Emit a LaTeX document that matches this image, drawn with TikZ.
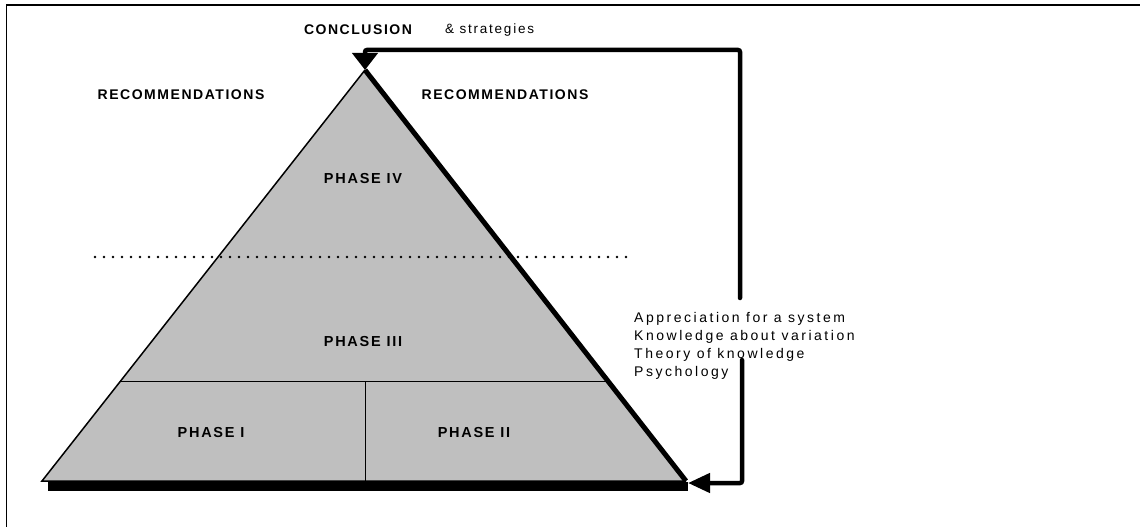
\documentclass[tikz,border=0pt]{standalone}
\usepackage{fontspec}
\setmainfont{Liberation Sans}
\usetikzlibrary{arrows.meta,calc}

\tikzset{
  caps/.style={font=\fontsize{14}{16}\selectfont\bfseries\addfontfeature{LetterSpace=11}},
  phase/.style={font=\fontsize{14.5}{16}\selectfont\bfseries\addfontfeature{LetterSpace=12}},
  plain/.style={font=\fontsize{14}{18}\selectfont\addfontfeature{LetterSpace=18}},
  feedback/.style={line width=4.5pt,rounded corners=2pt,line cap=round}
}

\begin{document}
\begin{tikzpicture}[x=1pt,y=-1pt]
    \useasboundingbox (0,0) rectangle (1140,527);
    % frame
    \draw[line width=2.5pt] (6,5) -- (1140,5);
    \draw[line width=1.5pt] (6.5,5) -- (6.5,527);

    \coordinate (apex) at (365,70);
    \coordinate (baseL) at (42,481);
    \coordinate (baseR) at (686,481);

    % pyramid
    \fill[lightgray] (apex) -- (baseL) -- (baseR) -- cycle;
    \draw[line width=0.8pt] ($(apex)!0.757!(baseL)$) -- ($(apex)!0.757!(baseR)$);
    \draw[line width=0.8pt] (365,381) -- (365,481);
    \draw[line width=2.6pt,line cap=round,dash pattern=on 0pt off 9pt] (95,257) -- (632,257);
    \draw[line width=1.5pt] (baseR) -- (baseL) -- (apex);
    \draw[line width=5pt] (apex) -- (baseR);
    \draw[line width=9pt] (48,486.5) -- (688,486.5);

	\node[caps] (conclusion) at (358,30) {CONCLUSION};
	\node[plain,font=\fontsize{13.5}{16}\selectfont\addfontfeature{LetterSpace=13},anchor=west,inner sep=0pt] (strategies) at (445,30) {\& strategies};
	\node[caps] (recleft) at (181,95) {RECOMMENDATIONS};
	\node[caps] (recright) at (505,95) {RECOMMENDATIONS};
	\node[phase] (phaseIV) at (363,179) {PHASE IV};
	\node[phase] (phaseIII) at (363,342) {PHASE III};
	\node[phase] (phaseI) at (211,433) {PHASE I};
	\node[phase] (phaseII) at (474,433) {PHASE II};
	\node[plain,align=left,anchor=north west,inner sep=0pt] (factors) at (634,312)
	  {Appreciation for a system\\Knowledge about variation\\Theory of knowledge\\Psychology};

    % feedback loops
    \coordinate (topfree) at (740,298);
    \coordinate (lowfree) at (742,360);
    \draw[feedback,-{Triangle[length=17pt,width=25pt]}] (topfree) -- (740,50) -- (365,50) -- (apex);
    \draw[feedback,-{Triangle[length=22pt,width=19pt]}] (lowfree) -- (742,483) -- ($(baseR)+(2,2)$);
\end{tikzpicture}
\end{document}
